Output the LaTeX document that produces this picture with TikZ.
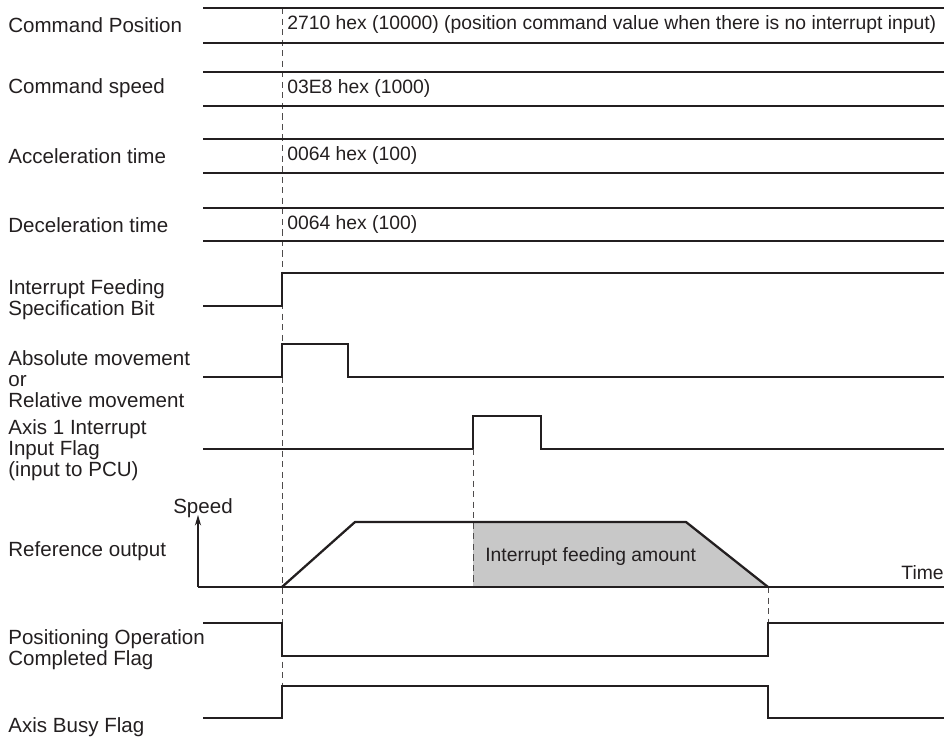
\documentclass[tikz,border=0pt]{standalone}
\usepackage{fontspec}
\setmainfont{Liberation Sans}
\usetikzlibrary{arrows.meta}

\definecolor{inkline}{RGB}{35,31,32}
\definecolor{feedgray}{RGB}{200,200,200}

\tikzset{
  lbl/.style={anchor=west, inner sep=0pt, align=left, text=inkline,
    font=\fontsize{11.7}{11.9}\selectfont},
  val/.style={lbl, font=\fontsize{11}{12}\selectfont},
  sig/.style={line width=1.3pt, inkline, line join=miter},
  bus/.style={line width=1.3pt, inkline},
  guide/.style={line width=0.5pt, inkline!80, dash pattern=on 3.5pt off 2.5pt},
}

\begin{document}
\begin{tikzpicture}[x=0.02cm, y=-0.02cm]
        \useasboundingbox (0,0) rectangle (944,739);

        % Edge times
        \coordinate (t0top) at (282,8);
        \coordinate (t0bot) at (282,686);
        \coordinate (t1top) at (473,449);
        \coordinate (t1bot) at (473,587);
        \coordinate (t2top) at (768,587);
        \coordinate (t2bot) at (768,623);

        % Draw guide lines
        \draw[guide] (t0top) -- (t0bot);
        \draw[guide] (t2top) -- (t2bot);

        % Draw labels
        \node[lbl] (cpos) at (8,25) {Command Position};
        \node[lbl] (cspd) at (8,88) {Command speed};
        \node[lbl] (acc) at (8,156) {Acceleration time};
        \node[lbl] (dec) at (8,225) {Deceleration time};
        \node[lbl] (ifsb) at (8,300) {Interrupt Feeding\\Specification Bit};
        \node[lbl] (absrel) at (8,379) {Absolute movement\\or\\Relative movement};
        \node[lbl] (intflag) at (8,450) {Axis 1 Interrupt\\Input Flag\\(input to PCU)};
        \node[lbl] (refout) at (8,551) {Reference output};
        \node[lbl] (posdone) at (8,650) {Positioning Operation\\Completed Flag};
        \node[lbl] (busy) at (8,727) {Axis Busy Flag};

        % Draw data rows
        \foreach \ytop/\ybot in {8/43, 72/106, 139/173, 208/241}{
            \draw[bus] (203,\ytop) -- (944,\ytop);
            \draw[bus] (203,\ybot) -- (944,\ybot);
        }
        \node[val] (vpos) at (287,25) {2710 hex (10000) (position command value when there is no interrupt input)};
        \node[val] (vspd) at (287,89) {03E8 hex (1000)};
        \node[val] (vacc) at (287,156) {0064 hex (100)};
        \node[val] (vdec) at (287,225) {0064 hex (100)};

        % Draw bit signals
        \draw[sig] (203,306) -- (282,306) -- (282,273) -- (944,273);
        \draw[sig] (203,377) -- (282,377) -- (282,344) -- (348,344) -- (348,377) -- (944,377);
        \draw[sig] (203,449) -- (473,449) -- (473,416) -- (541,416) -- (541,449) -- (944,449);

        % Draw speed profile
        \fill[feedgray] (473,587) -- (473,522) -- (686,522) -- (768,587) -- cycle;
        \draw[guide] (t1top) -- (t1bot);
        \coordinate (origin) at (198,587);
        \draw[line width=0.7pt, inkline, -{Stealth[length=6pt, width=3.5pt]}] (origin) -- (198,515);
        \draw[line width=0.8pt, inkline] (origin) -- (944,587);
        \draw[sig, line join=round] (282,587) -- (355,522) -- (686,522) -- (768,587);
        \node[lbl, anchor=south] (speed) at (203,518) {Speed};
        \node[val, anchor=east] (time) at (944,573) {Time};
        \node[val] (feed) at (485,557) {Interrupt feeding amount};

        % Draw flags
        \draw[sig] (203,623) -- (282,623) -- (282,656) -- (768,656) -- (768,623) -- (944,623);
        \draw[sig] (203,718) -- (282,718) -- (282,686) -- (768,686) -- (768,718) -- (944,718);
    \end{tikzpicture}
\end{document}
